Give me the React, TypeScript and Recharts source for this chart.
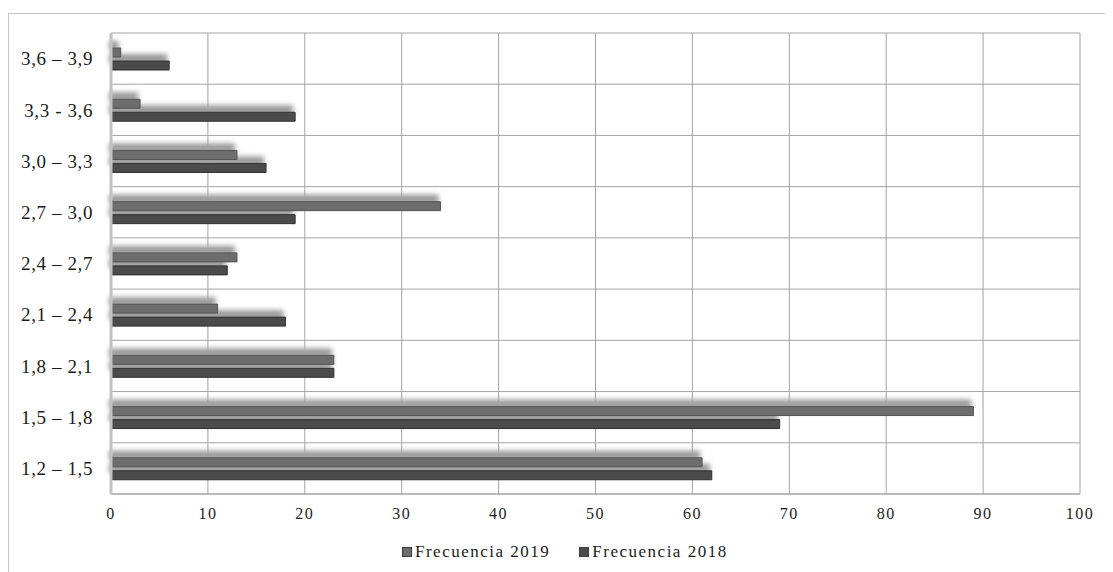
import React from 'react';
import { BarChart, Bar, XAxis, YAxis, CartesianGrid, Legend } from 'recharts';

// intervalos de la variable, de abajo hacia arriba
const intervals = [
  '1,2 – 1,5',
  '1,5 – 1,8',
  '1,8 – 2,1',
  '2,1 – 2,4',
  '2,4 – 2,7',
  '2,7 – 3,0',
  '3,0 – 3,3',
  '3,3 - 3,6',
  '3,6 – 3,9',
];
const freq2019 = [61, 89, 23, 11, 13, 34, 13, 3, 1];
const freq2018 = [62, 69, 23, 18, 12, 19, 16, 19, 6];
const xTicks = [0, 10, 20, 30, 40, 50, 60, 70, 80, 90, 100];
const seriesNames = ['Frecuencia 2019', 'Frecuencia 2018'];

const data = intervals.map((rango, i) => ({
  rango,
  f2019: freq2019[i],
  f2018: freq2018[i],
}));

const W = 1105;
const H = 564;
const Y_WIDTH = 103;
const X_HEIGHT = 30;
const MARGIN = { top: 25, right: 33, left: 0, bottom: 48 };
const SERIF = '"Liberation Serif", "Times New Roman", Times, serif';
const TEXT = '#1c1c1c';

const COLOR_2019 = '#6d6d6d';
const COLOR_2018 = '#4b4b4b';

// grid lines on the band edges instead of the band centres
const bandEdges = ({ offset }: any) => {
  const step = offset.height / intervals.length;
  const ys = intervals.map((_, i) => offset.top + i * step);
  ys.push(offset.top + offset.height);
  return ys;
};

const LegendRow = ({ payload }: any) => {
  // keep the series order (the legend sorts by name otherwise)
  const items = [...(payload || [])].sort(
    (a: any, b: any) => seriesNames.indexOf(a.value) - seriesNames.indexOf(b.value)
  );
  return (
    <div
      style={{
        display: 'flex',
        alignItems: 'center',
        fontFamily: SERIF,
        fontSize: 17,
        letterSpacing: 1.5,
        lineHeight: '20px',
        color: TEXT,
        whiteSpace: 'nowrap',
      }}
    >
      {items.map((entry: any, i: number) => (
        <span key={entry.value} style={{ display: 'flex', alignItems: 'center', marginLeft: i ? 29 : 0 }}>
          <span
            style={{
              width: 10,
              height: 10,
              background: entry.color,
              border: '1px solid #3a3a3a',
              boxSizing: 'border-box',
              marginRight: 3,
            }}
          />
          {entry.value}
        </span>
      ))}
    </div>
  );
};

// soft shadow drawn on its own layer, behind every bar
const ShadowRect = (props: any) => {
  const { x, y, width, height } = props;
  if (!width || !height) return <g />;
  return <rect x={x} y={y} width={width} height={height} fill="#000" filter="url(#barShadow)" />;
};

const ShadowLayer = () => (
  <BarChart
    width={W}
    height={H}
    data={data}
    layout="vertical"
    barGap={4}
    margin={{ top: MARGIN.top, right: MARGIN.right, left: Y_WIDTH, bottom: MARGIN.bottom + X_HEIGHT }}
  >
    <defs>
      <filter id="barShadow" filterUnits="userSpaceOnUse" x={0} y={0} width={W} height={H}>
        <feGaussianBlur in="SourceAlpha" stdDeviation="2.5" />
        <feOffset dx="-2" dy="-7" result="blur" />
        <feFlood floodColor="#777777" floodOpacity="0.75" />
        <feComposite in2="blur" operator="in" />
      </filter>
    </defs>
    <XAxis type="number" domain={[0, 100]} hide />
    <YAxis type="category" dataKey="rango" reversed hide />
    <Bar dataKey="f2019" barSize={9} shape={ShadowRect} isAnimationActive={false} />
    <Bar dataKey="f2018" barSize={9} shape={ShadowRect} isAnimationActive={false} />
  </BarChart>
);

const MainLayer = () => (
  <BarChart width={W} height={H} data={data} layout="vertical" barGap={4} margin={MARGIN}>
    <CartesianGrid stroke="#a4a4a4" horizontalCoordinatesGenerator={bandEdges} />
    <XAxis
      type="number"
      domain={[0, 100]}
      ticks={xTicks}
      interval={0}
      height={X_HEIGHT}
      tickLine={false}
      tickSize={0}
      tickMargin={14}
      axisLine={{ stroke: '#a4a4a4' }}
      tick={{ fontSize: 16, fontFamily: SERIF, fill: TEXT, letterSpacing: 1.5 }}
    />
    <YAxis
      type="category"
      dataKey="rango"
      reversed
      interval={0}
      width={Y_WIDTH}
      tickLine={false}
      tickSize={0}
      tickMargin={18}
      axisLine={{ stroke: '#c2c2c2', strokeWidth: 3 }}
      tick={{ fontSize: 19, fontFamily: SERIF, fill: TEXT, letterSpacing: 0.6 }}
    />
    <Legend
      layout="horizontal"
      verticalAlign="middle"
      align="center"
      content={LegendRow}
      wrapperStyle={{ left: 394, top: 534, width: 'auto', height: 20 }}
    />
    <Bar
      dataKey="f2019"
      name={seriesNames[0]}
      fill={COLOR_2019}
      stroke="#535353"
      strokeWidth={1}
      barSize={9}
      isAnimationActive={false}
    />
    <Bar
      dataKey="f2018"
      name={seriesNames[1]}
      fill={COLOR_2018}
      stroke="#2f2f2f"
      strokeWidth={1}
      barSize={9}
      isAnimationActive={false}
    />
  </BarChart>
);

export default function App() {
  return (
    <div style={{ position: 'relative', width: W, height: H }}>
      <div
        style={{
          position: 'absolute',
          left: 0,
          top: 5,
          right: 0,
          bottom: 0,
          borderTop: '1.5px solid #c6c6c6',
          borderLeft: '1.5px solid #c6c6c6',
        }}
      />
      <div style={{ position: 'absolute', left: 0, top: 0 }}>
        <ShadowLayer />
      </div>
      <div style={{ position: 'absolute', left: 0, top: 0 }}>
        <MainLayer />
      </div>
    </div>
  );
}
